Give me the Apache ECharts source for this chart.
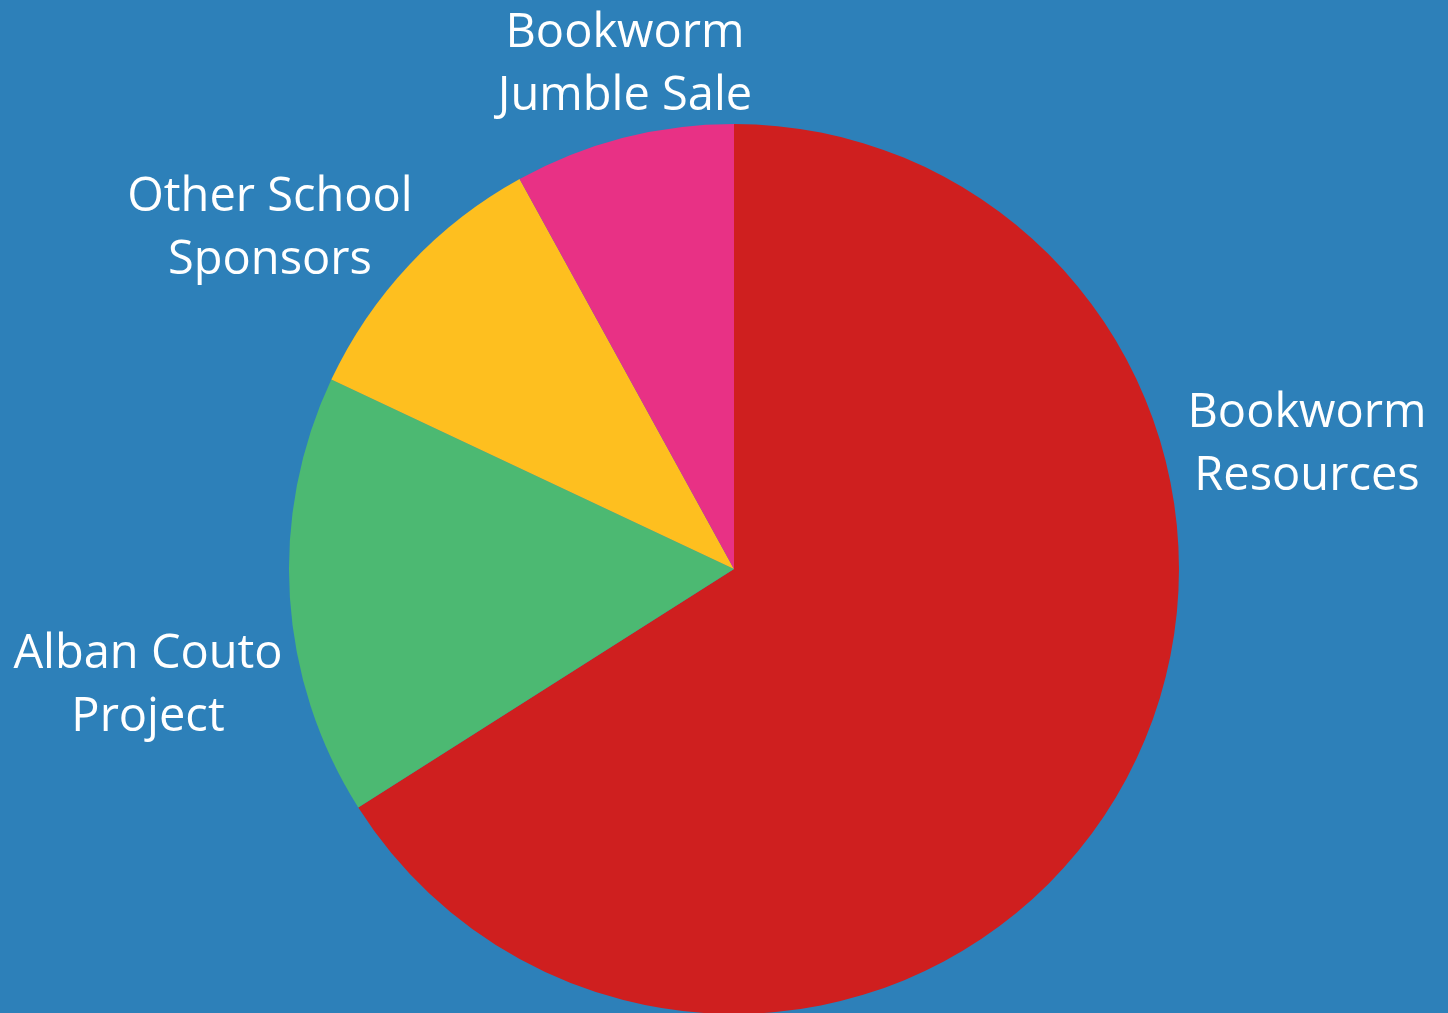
<!DOCTYPE html>
<html>
<head>
<meta charset="utf-8">
<script src="https://cdn.jsdelivr.net/npm/echarts@6/dist/echarts.min.js"></script>
<style>
html,body{margin:0;padding:0;background:#2D80B9;}
#chart{width:1448px;height:1013px;}
</style>
</head>
<body>
<div id="chart"></div>
<script>
const categories = ['Bookworm Resources', 'Alban Couto Project', 'Other School Sponsors', 'Bookworm Jumble Sale'];
const labelTexts = ['Bookworm\nResources', 'Alban Couto\nProject', 'Other School\nSponsors', 'Bookworm\nJumble Sale'];
const values = [66, 16, 10, 8];
const colors = ['#CF1F1F', '#4CB972', '#FEBF1F', '#E83185'];
// label anchor positions (layout only)
const labelPos = [[1307, 445], [148, 686], [270, 229], [625, 65]];

const chart = echarts.init(document.getElementById('chart'));
chart.setOption({
  backgroundColor: '#2D80B9',
  animation: false,
  series: [{
    type: 'pie',
    center: ['50.69%', 569],
    radius: 445,
    startAngle: 90,
    clockwise: true,
    silent: true,
    avoidLabelOverlap: false,
    data: categories.map((c, i) => ({
      name: c,
      value: values[i],
      itemStyle: { color: colors[i] },
      label: { formatter: labelTexts[i] }
    })),
    itemStyle: { borderWidth: 0 },
    label: {
      show: true,
      position: 'outside',
      color: '#ffffff',
      fontFamily: 'Open Sans',
      fontSize: 47,
      lineHeight: 63,
      align: 'center',
      overflow: 'none',
      width: 400
    },
    labelLine: { show: false },
    labelLayout: function (p) {
      const pos = labelPos[p.dataIndex];
      return { x: pos[0], y: pos[1], align: 'center', verticalAlign: 'middle' };
    }
  }]
});
</script>
</body>
</html>
